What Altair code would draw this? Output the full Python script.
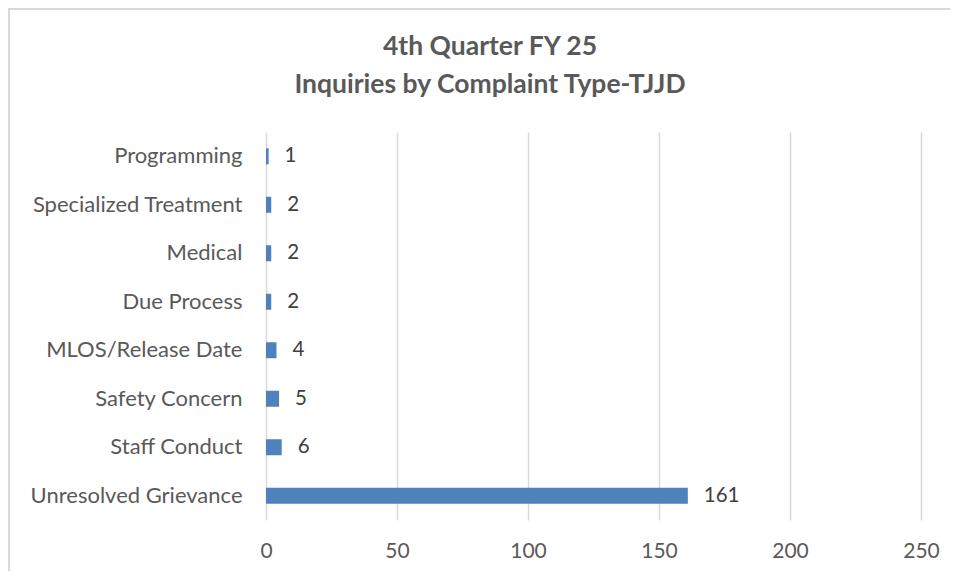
import altair as alt
import pandas as pd

categories = ["Programming", "Specialized Treatment", "Medical", "Due Process",
              "MLOS/Release Date", "Safety Concern", "Staff Conduct", "Unresolved Grievance"]
values = [1, 2, 2, 2, 4, 5, 6, 161]
x_ticks = [0, 50, 100, 150, 200, 250]
title_lines = ["4th Quarter FY 25", "Inquiries by Complaint Type-TJJD"]

df = pd.DataFrame({"category": categories, "value": values})
tdf = pd.DataFrame({"line": title_lines, "ypix": [-85, -47]})

W, H = 655, 388
PL, PT = 258, 124
PR = 942 - PL - W
PB = 563 - PT - H

font = "Lato"
ycat = alt.Y("category:N", sort=categories, title=None,
             axis=alt.Axis(labelFontSize=22, labelColor="#595959", labelFont=font,
                           ticks=False, domain=False, labelPadding=24, grid=False,
                           labelLimit=400))
xval = alt.X("value:Q", title=None,
             scale=alt.Scale(domain=[0, 250], nice=False),
             axis=alt.Axis(values=x_ticks, labelFontSize=21, labelColor="#595959",
                           labelFont=font, ticks=False, domain=False, labelPadding=20,
                           labelFlush=False,
                           grid=True, gridColor="#d9d9d9", gridWidth=1.5))

bars = alt.Chart(df).mark_bar(size=16, color="#4f81bd").encode(x=xval, y=ycat)
labels = alt.Chart(df).mark_text(align="left", baseline="middle", dx=16, fontSize=20.5,
                                 font=font, color="#404040").encode(
    x="value:Q", y=alt.Y("category:N", sort=categories), text="value:Q")

border = alt.Chart(df).mark_rect(fill=None, stroke="#d9d9d9", strokeWidth=1.5).encode(
    x=alt.value(-PL + 1), x2=alt.value(W + PR + 40),
    y=alt.value(-PT + 1), y2=alt.value(H + PB + 40))

title = alt.Chart(tdf).mark_text(align="center", baseline="middle", fontSize=26.5,
                                 font=font, fontWeight="bold", color="#595959").encode(
    x=alt.value(224), y=alt.Y("ypix:Q", scale=None), text="line:N")

chart = alt.layer(border, bars, labels, title).properties(
    width=W, height=H,
    autosize=alt.AutoSizeParams(type="none"),
    padding={"left": PL, "top": PT, "right": PR, "bottom": PB},
).configure_view(stroke=None)

chart.save("out.html", embed_options={"renderer": "svg", "actions": False})
